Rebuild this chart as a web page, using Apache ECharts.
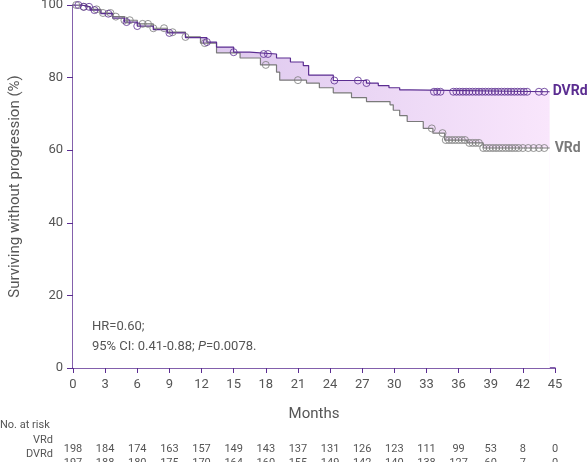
<!DOCTYPE html>
<html><head><meta charset="utf-8">
<script src="https://cdn.jsdelivr.net/npm/echarts@6/dist/echarts.min.js"></script>
<style>html,body{margin:0;padding:0;background:#fff}#c{width:588px;height:462px}</style>
</head><body><div id="c"></div>
<script>
// Kaplan-Meier knots: [month, % surviving] held until the next knot
const dvrdKnots = [[0,100],[0.8,99.5],[1.6,98.6],[2.6,97.6],[3.7,96.4],[4.8,95.3],[6,94.2],[7.5,93.2],[8.8,92.3],[10.5,91],[12.5,89.8],[13.4,88.4],[15,87],[16.5,86.5],[19,85.4],[20.3,84.3],[21.5,83.3],[22,80.7],[24.3,79.2],[27.4,78.5],[28.5,77.8],[29.5,77.2],[30.5,76.6],[31.5,76.1],[44.5,76.1]];
const vrdKnots = [[0,100],[0.8,99.5],[1.6,98.8],[2.6,97.8],[3.7,96.8],[4.8,95.8],[6,94.8],[7.5,93.6],[8.8,92.5],[10.5,91.2],[11.9,89.5],[13.4,86.8],[15.6,85.4],[17.5,83.5],[19,81.5],[19.3,79.3],[21.8,78.5],[23,77.2],[24.3,75.8],[26,74.5],[27.4,73.4],[29.6,72.5],[29.9,71],[30.5,69.5],[31.2,67.9],[32.7,66],[33.6,64.7],[34.7,62.8],[36.8,62],[38.3,60.6],[44.5,60.6]];
const dvrdCensor = [0.5,1,1.5,2,3.3,5,6,9,12.5,15,17.8,18.2,24.4,26.6,27.4,33.7,34,34.3,35.5,35.8,36.1,36.4,36.7,37,37.3,37.6,37.9,38.2,38.5,38.8,39.1,39.4,39.7,40,40.3,40.6,40.9,41.2,41.5,41.8,42.1,42.4,43.5,44];
const vrdCensor = [0.3,1,2.2,2.8,3.5,4,4.8,5.3,6.5,7,7.5,8.5,9.3,10.5,12.3,18,21,33.5,34.5,34.8,35.1,35.4,35.7,36,36.3,36.6,37,37.3,37.6,37.9,38.3,38.6,38.9,39.2,39.5,39.8,40.1,40.4,40.7,41,41.3,41.6,42,42.5,43,43.5,44];
const monthTicks = [0,3,6,9,12,15,18,21,24,27,30,33,36,39,42,45];
const riskVRd = [198,184,174,163,157,149,143,137,131,126,123,111,99,53,8,0];
const riskDVRd = [197,188,180,175,170,164,160,155,149,142,140,138,127,60,7,0];

const PURPLE = '#5b2d91', GRAY = '#7a7a7a', TXT = '#555';
const font = 'Roboto';
function at(knots, t){ let v = knots[0][1]; for (const k of knots) { if (k[0] <= t) v = k[1]; } return v; }

const chart = echarts.init(document.getElementById('c'));
const riskAxis = (arr, off) => ({
  type:'value', min:0, max:45, interval:3, position:'bottom', offset:off, gridIndex:0,
  axisLine:{show:false}, axisTick:{show:false}, splitLine:{show:false},
  axisLabel:{color:TXT, fontFamily:font, fontSize:11, formatter:v=>String(arr[Math.round(v/3)])}
});
chart.setOption({
  animation:false,
  grid:{left:73, right:33, top:5, bottom:94, outerBoundsMode:'none', containLabel:false},
  xAxis:[{
    type:'value', min:0, max:45, interval:3,
    axisLine:{lineStyle:{color:PURPLE, width:1.5}}, axisTick:{lineStyle:{color:PURPLE}, length:5},
    splitLine:{show:false},
    axisLabel:{color:TXT, fontFamily:font, fontSize:13, margin:10},
    name:'Months', nameLocation:'middle', nameGap:39, nameTextStyle:{color:TXT, fontFamily:font, fontSize:15}
  }, riskAxis(riskVRd, 68), riskAxis(riskDVRd, 82)],
  yAxis:{
    type:'value', min:0, max:100, interval:20,
    axisLine:{show:true, lineStyle:{color:PURPLE, width:1.5}}, axisTick:{show:true, lineStyle:{color:PURPLE}, length:6},
    splitLine:{show:false},
    axisLabel:{color:TXT, fontFamily:font, fontSize:13, margin:10},
    name:'Surviving without progression (%)', nameLocation:'middle', nameGap:50,
    nameTextStyle:{color:TXT, fontFamily:font, fontSize:15}
  },
  graphic:[
    {type:'text', left:0, top:420, style:{text:'No. at risk', fill:TXT, font:'11px Roboto'}},
    {type:'text', right:535, top:435, style:{text:'VRd', fill:TXT, font:'11px Roboto'}},
    {type:'text', right:535, top:449, style:{text:'DVRd', fill:TXT, font:'11px Roboto'}},
    {type:'text', left:92, top:317, z:100, style:{
      text:'HR=0.60;\n95% CI: 0.41-0.88; {i|P}=0.0078.', fill:TXT, font:'13px Roboto', lineHeight:20,
      rich:{i:{fontStyle:'italic', fontSize:13, fontFamily:font, fill:TXT}}}}
  ],
  series:[
    // band between curves: gradient under DVRd, covered by white under VRd
    {type:'line', data:dvrdKnots, step:'end', symbol:'none', lineStyle:{opacity:0}, silent:true, z:1,
     areaStyle:{opacity:1, color:new echarts.graphic.LinearGradient(0,0,1,0,[
       {offset:0, color:'rgb(210,188,232)'},{offset:1, color:'rgb(249,230,252)'}])}},
    {type:'line', data:vrdKnots, step:'end', symbol:'none', lineStyle:{opacity:0}, silent:true, z:2,
     areaStyle:{opacity:1, color:'#fff'}},
    {type:'line', data:vrdKnots, step:'end', symbol:'none', lineStyle:{color:GRAY, width:1.2}, z:3,
     endLabel:{show:true, formatter:'VRd', color:GRAY, fontFamily:font, fontWeight:'bold', fontSize:14, distance:5}},
    {type:'line', data:dvrdKnots, step:'end', symbol:'none', lineStyle:{color:PURPLE, width:1.2}, z:3,
     endLabel:{show:true, formatter:'DVRd', color:PURPLE, fontFamily:font, fontWeight:'bold', fontSize:14, distance:3}},
    {type:'scatter', data:vrdCensor.map(t=>[t, at(vrdKnots,t)]), symbol:'circle', symbolSize:7, z:4,
     itemStyle:{color:'rgba(0,0,0,0)', borderColor:GRAY, borderWidth:1}},
    {type:'scatter', data:dvrdCensor.map(t=>[t, at(dvrdKnots,t)]), symbol:'circle', symbolSize:7, z:4,
     itemStyle:{color:'rgba(0,0,0,0)', borderColor:PURPLE, borderWidth:1}}
  ]
});
</script></body></html>
